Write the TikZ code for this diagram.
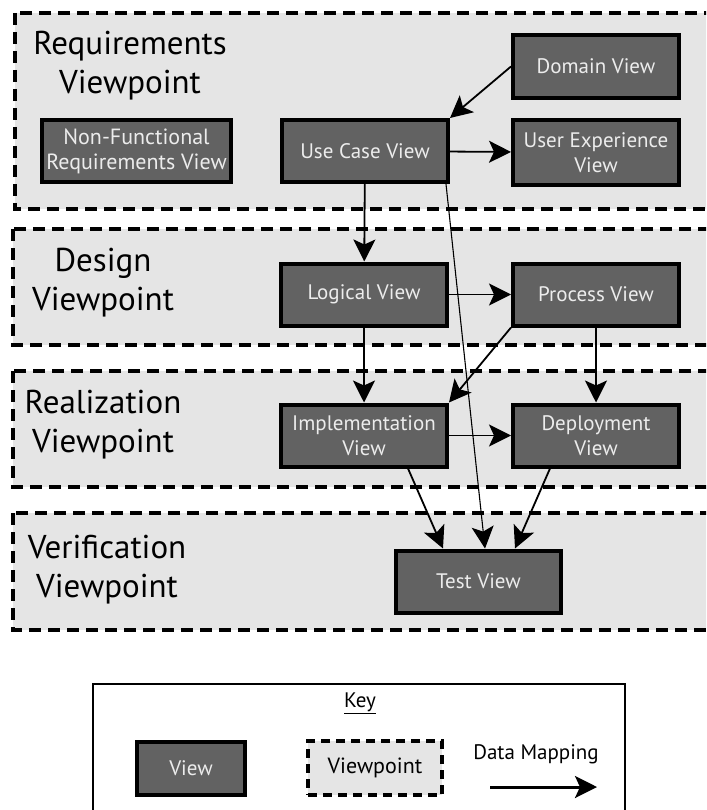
\documentclass[tikz,border=0pt]{standalone}
\usepackage{fontspec}
\setmainfont{PT Sans}
\usetikzlibrary{arrows.meta}
\usetikzlibrary{positioning}
\definecolor{viewgray}{RGB}{98,98,98}
\definecolor{viewtext}{RGB}{236,236,236}
\definecolor{vpgray}{RGB}{229,229,229}
\tikzset{viewbox/.style={draw,line width=4pt,fill=viewgray,text=viewtext,
            minimum width=166pt,minimum height=62pt,inner sep=0pt,align=center,
            font=\fontsize{21}{25}\selectfont},
         vpframe/.style={draw,fill=vpgray,line width=4.5pt,dash pattern=on 12pt off 7pt},
         vplabel/.style={align=center,font=\fontsize{33}{39}\selectfont},
         map/.style={-{Stealth[length=22pt,width=22pt,inset=5pt]},line width=1.8pt},
         thinmap/.style={map,line width=1.1pt},
         keytext/.style={font=\fontsize{21}{25}\selectfont},
         }
\begin{document}
\begin{tikzpicture}[x=1pt,y=-1pt]
\useasboundingbox (0,0) rectangle (706,810);
\clip (0,0) rectangle (706,810);
% viewpoints
\draw[vpframe] (15,13) rectangle (730,209);
\draw[vpframe] (13,229) rectangle (730,345);
\draw[vpframe] (13,371) rectangle (730,487);
\draw[vpframe] (13,513) rectangle (730,630);
\node[vplabel] (reqlabel) at (130,66) {Requirements\\Viewpoint};
\node[vplabel] (deslabel) at (103,283) {Design\\Viewpoint};
\node[vplabel] (reallabel) at (103,425) {Realization\\Viewpoint};
\node[vplabel] (verlabel) at (107,570) {Verification\\Viewpoint};
% views
\node[viewbox,minimum width=189pt,font=\fontsize{22}{25}\selectfont] (nonfunc) at (136.5,151.5) {Non-Functional\\Requirements View};
\node[viewbox] (usecase) at (365,151) {Use Case View};
\node[viewbox,minimum height=63pt] (domain) at (596,66.5) {Domain View};
\node[viewbox,minimum height=65pt] (ux) at (596,152.5) {User Experience\\View};
\node[viewbox] (logical) at (364,294.5) {Logical View};
\node[viewbox] (process) at (596,294.5) {Process View};
\node[viewbox] (impl) at (364,435.5) {Implementation\\View};
\node[viewbox] (deploy) at (596,435.5) {Deployment\\View};
\node[viewbox,minimum width=165pt] (test) at (478.5,581.5) {Test View};
% mappings
\draw[map] (domain.west) -- (usecase.north east);
\draw[map] (usecase) -- (ux);
\draw[map] (usecase) -- (logical);
\draw[thinmap] ([xshift=-4pt]usecase.south east) -- ([xshift=6.5pt]test.north);
\draw[map] (logical) -- (process);
\draw[map] (logical) -- (impl);
\draw[map] (process) -- (deploy);
\draw[map] (process.south west) -- (impl.north east);
\draw[map] (impl) -- (deploy);
\draw[map] ([xshift=44pt]impl.south) -- ([xshift=-35.5pt]test.north);
\draw[map] ([xshift=-46pt]deploy.south) -- ([xshift=36.5pt]test.north);
% key
\draw[line width=2pt] (93,684) rectangle (625,830);
\node[keytext] (keytitle) at (360,703) {\underline{Key}};
\node[viewbox,minimum width=108pt,minimum height=53pt] (keyview) at (191,768) {View};
\node[draw,fill=vpgray,line width=3.5pt,dash pattern=on 9pt off 6pt,minimum width=134pt,
      minimum height=54pt,font=\fontsize{22}{26}\selectfont] (keyvp) at (375,768) {Viewpoint};
\node[keytext] (keymap) at (536,754) {Data Mapping};
\coordinate (mapstart) at (490,787);
\coordinate (mapend) at (597,787);
\draw[map,line width=3pt] (mapstart) -- (mapend);
\end{tikzpicture}
\end{document}
